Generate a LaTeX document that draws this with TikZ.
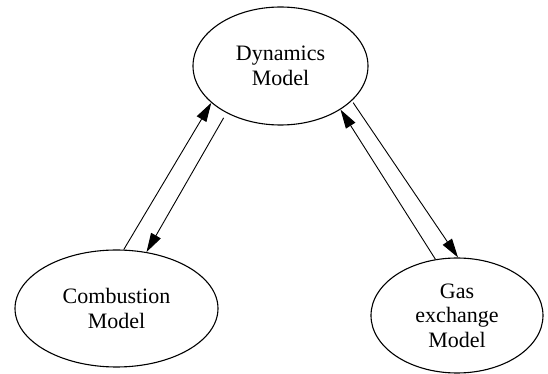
\documentclass[tikz,border=0pt]{standalone}
\usepackage{fontspec}
\setmainfont{Liberation Serif}
\usetikzlibrary{arrows.meta, shapes.geometric}
\tikzset{
  mdl/.style ={ellipse, draw, line width=0.55pt, align=center, inner sep=0pt, font=\fontsize{11}{12.2}\selectfont},
  fl/.style  ={-{Triangle[length=9.5pt, width=5.5pt]}, line width=0.45pt},
}
\begin{document}
\begin{tikzpicture}[x=0.5pt, y=-0.5pt]
  \useasboundingbox (0,0) rectangle (548,374);
  \node[mdl, minimum width=87.5pt, minimum height=59pt] (dyn) at (280.5,66) {Dynamics\\Model};
  \node[mdl, minimum width=101.5pt, minimum height=58.5pt] (comb) at (116.5,308.5) {Combustion\\Model};
  \node[mdl, minimum width=86pt, minimum height=57.5pt] (gas) at (457,315.5) {Gas\\exchange\\Model};
  \draw[fl] (comb.83.8) -- (dyn.208.1);
  \draw[fl, shorten <=2.8pt] (dyn.221.8) -- (comb.62);
  \draw[fl] (gas.111.6) -- (dyn.324.8);
  \draw[fl, shorten <=1.1pt] (dyn.334.4) -- (gas.89);
\end{tikzpicture}
\end{document}
